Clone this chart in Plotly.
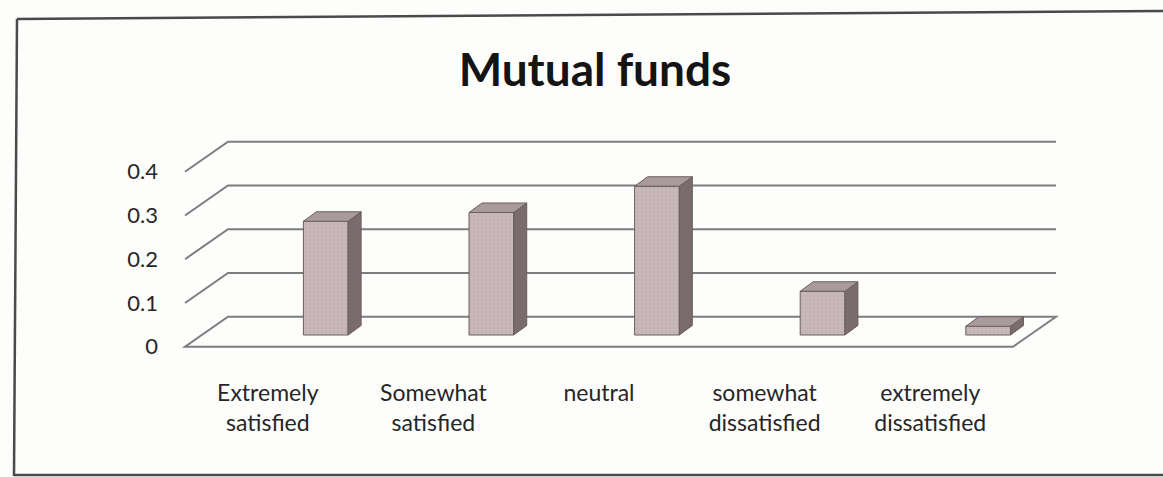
import plotly.graph_objects as go

# ---- data ----
categories = ["Extremely<br>satisfied", "Somewhat<br>satisfied", "neutral",
              "somewhat<br>dissatisfied", "extremely<br>dissatisfied"]
shares = [0.26, 0.28, 0.34, 0.10, 0.02]
y_ticks = [0, 0.1, 0.2, 0.3, 0.4]
y_tick_text = ["0", "0.1", "0.2", "0.3", "0.4"]

# ---- page / projection constants (pixels) ----
W, H = 1163, 477
SLOT_PX = 165.6          # width of one category slot on the front edge
SLOT0_PX = 267.8         # centre of the first slot on the front edge
ZERO_PX = 346.7          # front floor edge (value 0)
UNIT_PX = 437.5          # pixels per 1.0 of value
PLOT_L, PLOT_R, PLOT_T, PLOT_B = 160, 1100, 110, 352


def px_to_x(px):
    return (px - SLOT0_PX) / SLOT_PX


def px_to_y(py):
    return (ZERO_PX - py) / UNIT_PX


# oblique depth of floor / back wall and of each bar
FLOOR_DX, FLOOR_DY = 43 / SLOT_PX, 30 / UNIT_PX
BAR_SHIFT, BAR_W = 0.35, 0.27
BAR_BASE = 11.7 / UNIT_PX
BAR_DX, BAR_DY = 13 / SLOT_PX, 9.5 / UNIT_PX

n = len(categories)
x_front_l, x_front_r = -0.5, n - 0.5

FRONT = "#c8b8bb"
SIDE = "#7a6b6d"
TOP = "#a99a9d"
EDGE = "#6a5d5f"
GRID = "#7d7d7d"
TEXT = "#262626"

fig = go.Figure()

# front faces of the bars
bar_x = [i + BAR_SHIFT for i in range(n)]
fig.add_trace(go.Bar(
    x=bar_x, y=shares, base=[BAR_BASE] * n, width=BAR_W,
    marker=dict(color=FRONT, line=dict(color=EDGE, width=1),
                pattern=dict(shape=".", size=4, solidity=0.15,
                             fgcolor="#a8979b", fillmode="overlay")),
    hoverinfo="skip", showlegend=False,
))

# right-hand side faces
sx, sy = [], []
for xc, v in zip(bar_x, shares):
    xr = xc + BAR_W / 2
    b = BAR_BASE
    sx += [xr, xr + BAR_DX, xr + BAR_DX, xr, xr, None]
    sy += [b, b + BAR_DY, b + v + BAR_DY, b + v, b, None]
fig.add_trace(go.Scatter(
    x=sx, y=sy, mode="lines", fill="toself", fillcolor=SIDE,
    line=dict(color=EDGE, width=1), hoverinfo="skip", showlegend=False,
))

# top faces
tx, ty = [], []
for xc, v in zip(bar_x, shares):
    xl, xr = xc - BAR_W / 2, xc + BAR_W / 2
    t = BAR_BASE + v
    tx += [xl, xl + BAR_DX, xr + BAR_DX, xr, xl, None]
    ty += [t, t + BAR_DY, t + BAR_DY, t, t, None]
fig.add_trace(go.Scatter(
    x=tx, y=ty, mode="lines", fill="toself", fillcolor=TOP,
    line=dict(color=EDGE, width=1), hoverinfo="skip", showlegend=False,
))

# back-wall gridlines with their oblique left returns
shapes = []
for v in y_ticks[1:]:
    path = (f"M {x_front_l},{v} L {x_front_l + FLOOR_DX},{v + FLOOR_DY} "
            f"L {x_front_r + FLOOR_DX},{v + FLOOR_DY}")
    shapes.append(dict(type="path", path=path, xref="x", yref="y",
                       line=dict(color=GRID, width=2), layer="below"))

# floor
floor = (f"M {x_front_l},0 L {x_front_r},0 "
         f"L {x_front_r + FLOOR_DX},{FLOOR_DY} L {x_front_l + FLOOR_DX},{FLOOR_DY} Z")
shapes.append(dict(type="path", path=floor, xref="x", yref="y",
                   line=dict(color=GRID, width=2), fillcolor="rgba(0,0,0,0)",
                   layer="below"))

# outer frame of the chart area
def pp(px, py):
    return px / W, 1 - py / H

fx0, fy0 = pp(17, 19)
fx1, fy1 = pp(1163, 11)
fx2, fy2 = pp(14, 476)
fx3, fy3 = pp(1163, 475)
frame = dict(color="#4a4a4a", width=2.5)
shapes += [
    dict(type="line", xref="paper", yref="paper", x0=fx0, y0=fy0, x1=fx1, y1=fy1, line=frame),
    dict(type="line", xref="paper", yref="paper", x0=fx0, y0=fy0, x1=fx2, y1=fy2, line=frame),
    dict(type="line", xref="paper", yref="paper", x0=fx2, y0=fy3, x1=fx3, y1=fy3, line=frame),
]

FONT = "Lato"
fig.update_layout(
    width=W, height=H,
    margin=dict(l=0, r=0, t=0, b=0, autoexpand=False),
    paper_bgcolor="#fdfdfc", plot_bgcolor="rgba(0,0,0,0)",
    template="none",
    barmode="overlay",
    shapes=shapes,
    title=dict(text="<b>Mutual funds</b>", x=595 / W, y=1 - 70 / H,
               xanchor="center", yanchor="middle", xref="paper", yref="paper",
               font=dict(family=FONT, size=46, color="#141414")),
    xaxis=dict(domain=[PLOT_L / W, PLOT_R / W],
               range=[px_to_x(PLOT_L), px_to_x(PLOT_R)],
               tickvals=list(range(n)), ticktext=categories,
               showgrid=False, zeroline=False, showline=False, ticks="",
               automargin=False, ticklabelstandoff=25,
               tickfont=dict(family=FONT, size=23, color=TEXT)),
    yaxis=dict(domain=[1 - PLOT_B / H, 1 - PLOT_T / H],
               range=[px_to_y(PLOT_B), px_to_y(PLOT_T)],
               tickvals=y_ticks, ticktext=y_tick_text,
               showgrid=False, zeroline=False, showline=False, ticks="",
               automargin=False, ticklabelstandoff=1,
               tickfont=dict(family=FONT, size=22, color=TEXT)),
)

fig.write_html("out.html")
